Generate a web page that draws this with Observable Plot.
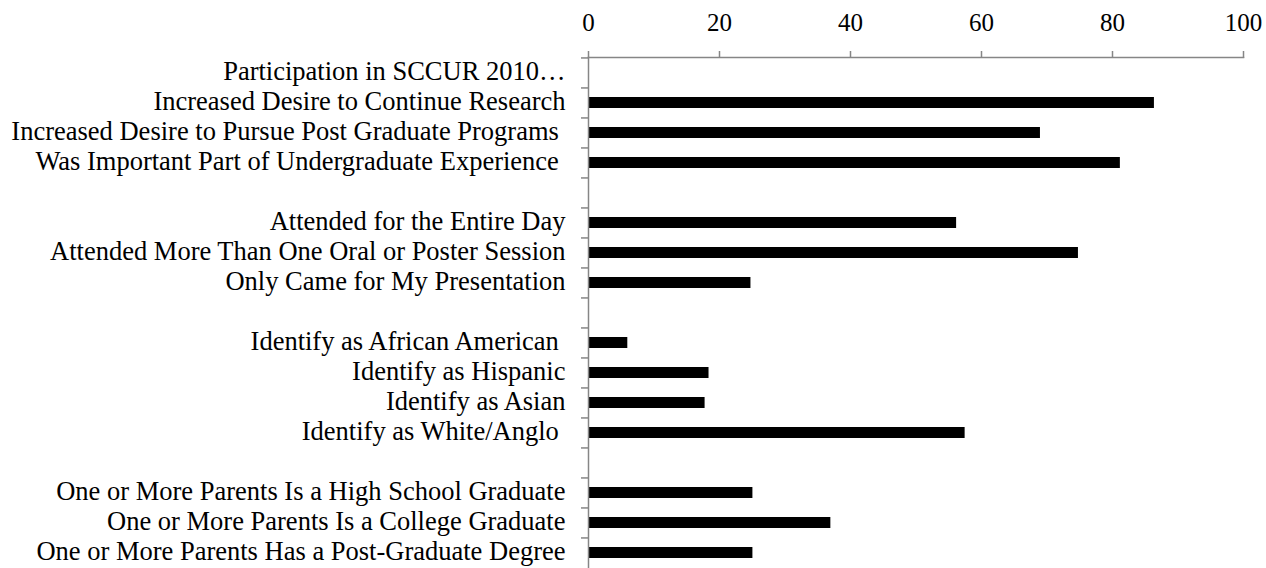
<!DOCTYPE html>
<html>
<head>
<meta charset="utf-8">
<script src="https://cdn.jsdelivr.net/npm/d3@7"></script>
<script src="https://cdn.jsdelivr.net/npm/@observablehq/plot@0.6"></script>
<style>
  html, body { margin: 0; padding: 0; background: #fff; }
  #chart svg { display: block; }
</style>
</head>
<body>
<div id="chart"></div>
<script>
const labels = [
  "Participation in SCCUR 2010…",
  "Increased Desire to Continue Research",
  "Increased Desire to Pursue Post Graduate Programs\u00a0",
  "Was Important Part of Undergraduate Experience\u00a0",
  "",
  "Attended for the Entire Day",
  "Attended More Than One Oral or Poster Session",
  "Only Came for My Presentation",
  "",
  "Identify as African American\u00a0",
  "Identify as Hispanic",
  "Identify as Asian",
  "Identify as White/Anglo\u00a0",
  "",
  "One or More Parents Is a High School Graduate",
  "One or More Parents Is a College Graduate",
  "One or More Parents Has a Post-Graduate Degree"
];
const values = [null, 86.4, 69.0, 81.2, null, 56.2, 74.8, 24.8, null, 6.0, 18.4, 17.8, 57.5, null, 25.1, 37.0, 25.1];
const xTicks = [0, 20, 40, 60, 80, 100];

const rows = labels.map((label, i) => ({i, label, value: values[i]}));
const bars = rows.filter(d => d.value != null);

const axisColor = "#868686";
const yTop = 57, yBottom = 569;
const step = (yBottom - yTop) / labels.length;

const chart = Plot.plot({
  width: 1266,
  height: 568,
  marginLeft: 588,
  marginRight: 23,
  marginTop: yTop,
  marginBottom: 0,
  style: {fontFamily: "'Liberation Serif', 'Times New Roman', serif", fontSize: "24px", color: "black", background: "white"},
  x: {domain: [0, 100], axis: null, label: null},
  y: {domain: d3.range(labels.length), range: [yTop, yBottom], paddingInner: 0.62, paddingOuter: 0.31, axis: null, label: null},
  marks: [
    Plot.barX(bars, {x: "value", y: "i", fill: "black"}),
    Plot.frame({anchor: "top", stroke: axisColor, strokeWidth: 1.5}),
    Plot.frame({anchor: "left", stroke: axisColor, strokeWidth: 1.5}),
    Plot.axisX({anchor: "top", ticks: xTicks, tickSize: 7, tickPadding: 20, stroke: axisColor, strokeWidth: 1.5, fill: "black", fontSize: 25, label: null}),
    Plot.axisY({anchor: "left", tickSize: 7, dy: -step / 2, stroke: axisColor, strokeWidth: 1.5, tickFormat: () => "", label: null}),
    Plot.axisY({anchor: "left", tickSize: 0, tickPadding: 23, dy: -1, tickFormat: i => labels[i], fill: "black", fontSize: 26.5, label: null})
  ]
});
document.getElementById("chart").appendChild(chart);
</script>
</body>
</html>
